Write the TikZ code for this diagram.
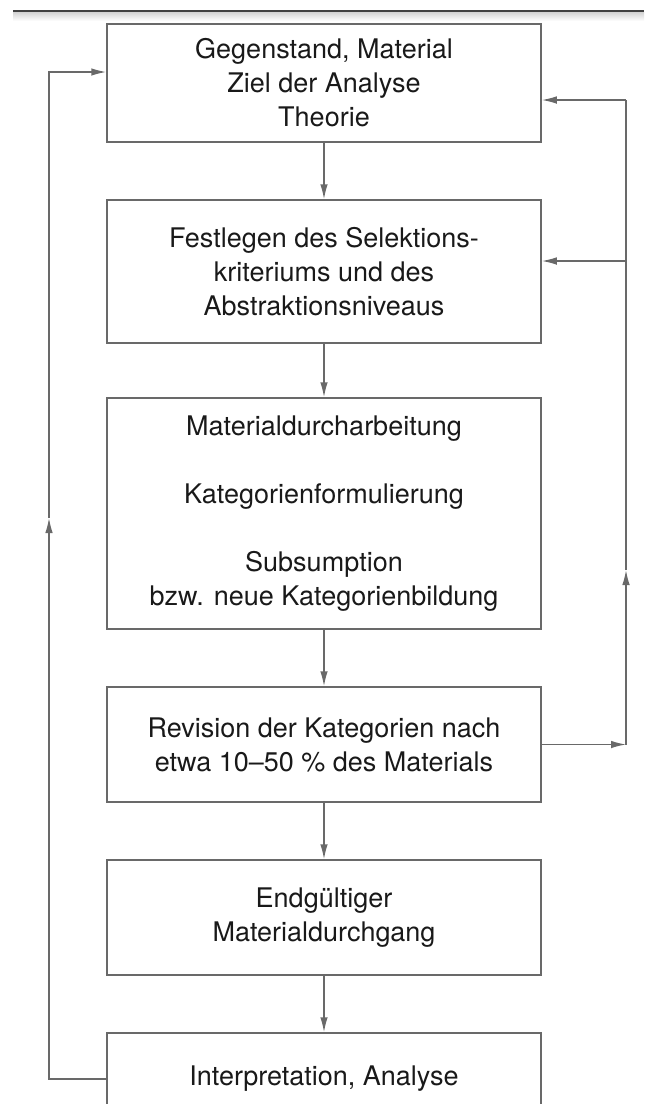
\documentclass[tikz,border=0pt]{standalone}
\usepackage{fontspec}
\setmainfont{TeX Gyre Heros}
\usetikzlibrary{positioning,arrows.meta}

\definecolor{linie}{RGB}{105,105,105}
\definecolor{schrift}{RGB}{25,25,25}

\tikzset{
	kasten/.style={draw=linie, line width=0.75pt, minimum width=217pt, align=center, text=schrift,
		font=\fontsize{13.5}{17}\selectfont},
	pfeil/.style={draw=linie, line width=0.75pt, -{Latex[length=7.5pt,width=3.8pt]}},
	linie/.style={draw=linie, line width=0.75pt}
}

\begin{document}
\begin{tikzpicture}[x=0.5pt,y=-0.5pt]
	
	\useasboundingbox (0,0) rectangle (644,1104);
	\clip (0,0) rectangle (644,1104);
	
	% Kopflinie
	\shade[top color=gray!35, bottom color=white] (13,12) rectangle (644,21);
	\draw[line width=1.1pt, black!75] (13,11) -- (644,11);
	
	% Ablauf
	\node[kasten, minimum height=59pt] (gegen) at (324,83) {Gegenstand, Material\\Ziel der Analyse\\Theorie};
	\node[kasten, minimum height=71.5pt] (selek) at (324,271.5) {Festlegen des Selektions-\\kriteriums und des\\Abstraktionsniveaus};
	\node[kasten, minimum height=115.5pt] (mat) at (324,513.5) {Materialdurcharbeitung\\[17pt]Kategorienformulierung\\[17pt]Subsumption\\bzw. neue Kategorienbildung};
	\node[kasten, minimum height=57.5pt] (rev) at (324,744.5) {Revision der Kategorien nach\\etwa 10--50~\% des Materials};
	\node[kasten, minimum height=57.5pt] (end) at (324,917.5) {Endgültiger\\Materialdurchgang};
	\node[kasten, minimum height=46pt] (interp) at (324,1079) {Interpretation, Analyse};
	
	\draw[pfeil] (gegen) -- (selek);
	\draw[pfeil] (selek) -- (mat);
	\draw[pfeil] (mat) -- (rev);
	\draw[pfeil] (rev) -- (end);
	\draw[pfeil] (end) -- (interp);
	
	% Rueckkopplung links
	\coordinate (lu) at (49,1079);
	\coordinate (lm) at (49,518);
	\coordinate (lo) at (49,72);
	\draw[pfeil] (interp.west) -- (lu) -- (lm);
	\draw[pfeil] (lm) -- (lo) -- (gegen.west |- lo);
	
	% Rueckkopplung rechts
	\coordinate (ru) at (626,744.5);
	\coordinate (rm) at (626,570);
	\coordinate (rs) at (626,261);
	\coordinate (ro) at (626,100);
	\draw[pfeil] (rev.east) -- (ru);
	\draw[pfeil] (ru) -- (rm);
	\draw[linie] (rm) -- (ro);
	\draw[pfeil] (ro) -- (gegen.east |- ro);
	\draw[pfeil] (rs) -- (selek.east |- rs);
	
\end{tikzpicture}
\end{document}
